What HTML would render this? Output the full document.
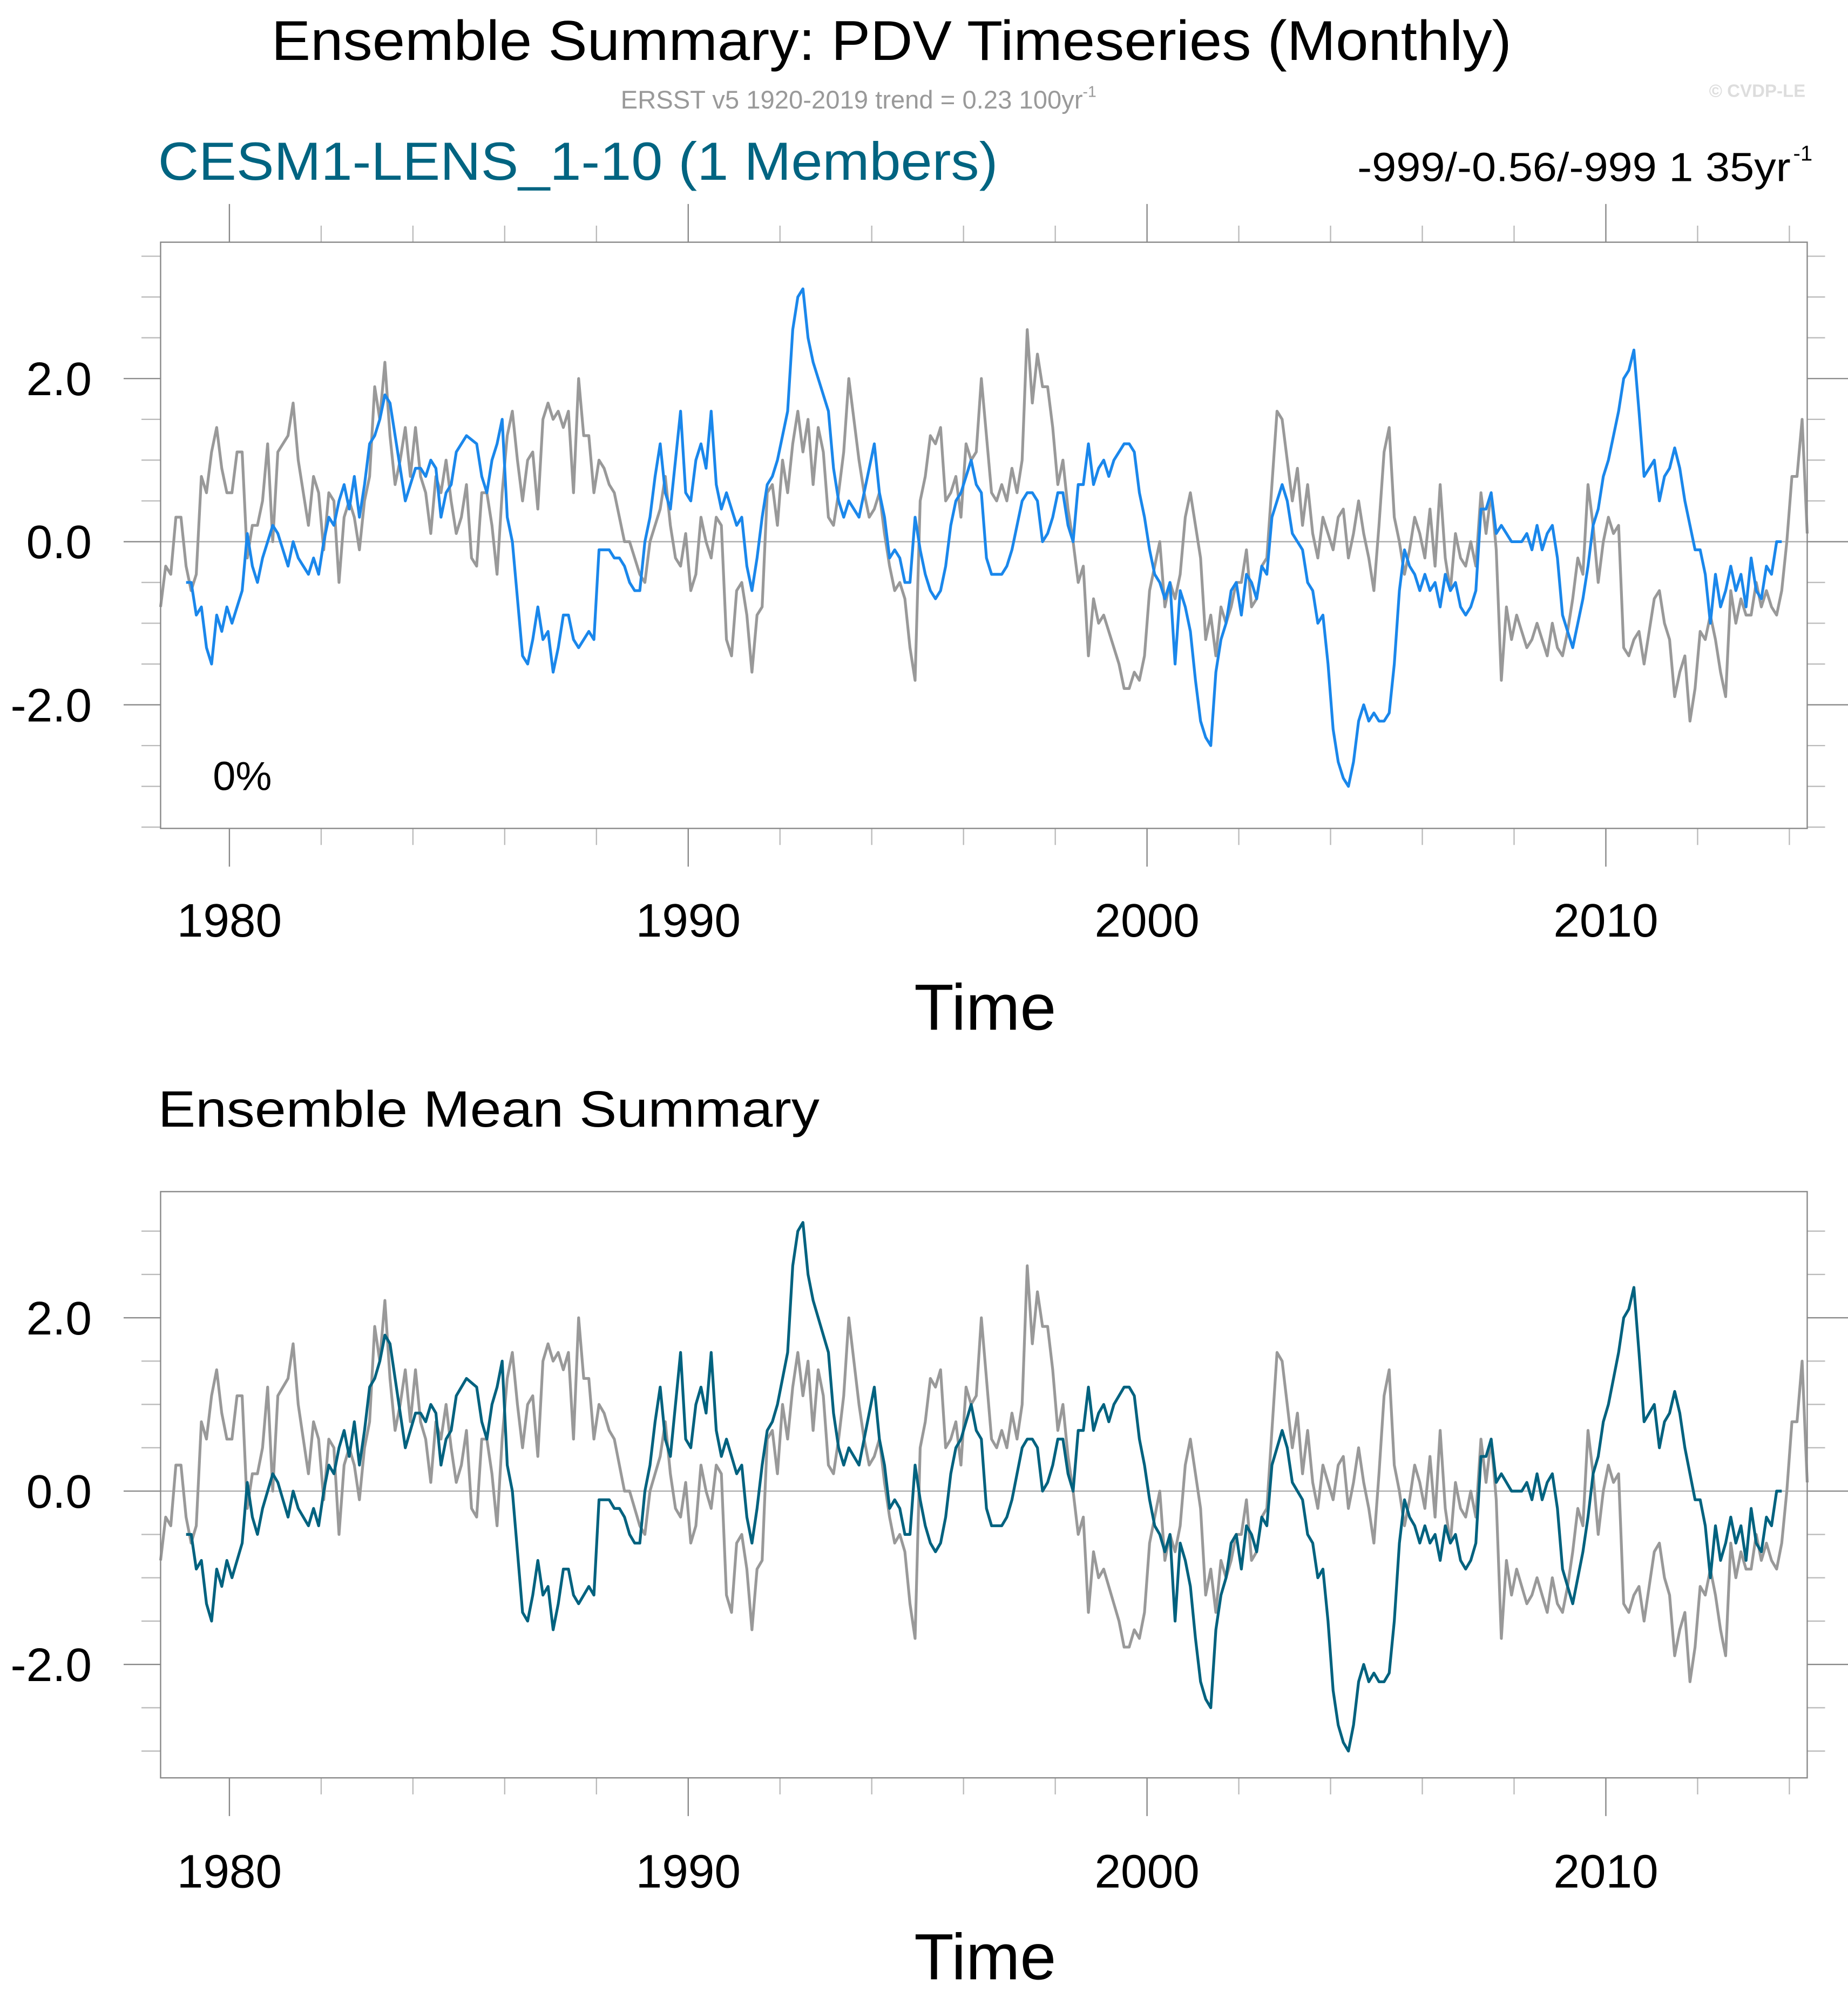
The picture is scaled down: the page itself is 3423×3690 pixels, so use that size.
<!DOCTYPE html>
<html><head><meta charset="utf-8"><style>
html,body{margin:0;padding:0;background:#fff}
svg{display:block}
text{font-family:"Liberation Sans",sans-serif}
</style></head><body>
<svg id="chart" width="3423" height="3690" viewBox="0 0 1450 1563" xmlns="http://www.w3.org/2000/svg">
<rect width="1450" height="1563" fill="#fff"/>
<text x="213" y="47" font-size="44" textLength="973" lengthAdjust="spacingAndGlyphs">Ensemble Summary: PDV Timeseries (Monthly)</text>
<text x="487" y="85" font-size="20" fill="#999">ERSST v5 1920-2019 trend = 0.23 100yr<tspan font-size="12" dy="-9">-1</tspan></text>
<text x="1341" y="76" font-size="14" font-weight="bold" fill="#ddd">© CVDP-LE</text>
<text x="124" y="141" font-size="42" fill="#006481" textLength="659" lengthAdjust="spacingAndGlyphs">CESM1-LENS_1-10 (1 Members)</text>
<text x="1065" y="142" font-size="32" textLength="340" lengthAdjust="spacingAndGlyphs">-999/-0.56/-999 1 35yr</text>
<text x="1407" y="126" font-size="17">-1</text>
<text x="124" y="884" font-size="40" textLength="519" lengthAdjust="spacingAndGlyphs">Ensemble Mean Summary</text>
<g id="p1"></g>
<g id="p2"></g>
</svg>
<script>
const xTicks=[1980,1990,2000,2010];
const xMinor=[1982,1984,1986,1988,1992,1994,1996,1998,2002,2004,2006,2008,2012,2014];
const yTickLabels=["2.0","0.0","-2.0"];
const yTickValues=[2,0,-2];
const obsStart=1978.5;
const modelStart=1979.056;
const stepYears=1/9;
const obsValues=[-0.8,-0.3,-0.4,0.3,0.3,-0.3,-0.6,-0.4,0.8,0.6,1.1,1.4,0.9,0.6,0.6,1.1,1.1,-0.2,0.2,0.2,0.5,1.2,0.0,1.1,1.2,1.3,1.7,1.0,0.6,0.2,0.8,0.6,-0.1,0.6,0.5,-0.5,0.3,0.5,0.3,-0.1,0.5,
0.8,1.9,1.5,2.2,1.3,0.7,1.0,1.4,0.8,1.4,0.8,0.6,0.1,0.8,0.6,1.0,0.5,0.1,0.3,0.7,-0.2,-0.3,0.6,0.6,0.2,-0.4,0.6,1.3,1.6,1.0,0.5,1.0,1.1,0.4,1.5,1.7,1.5,1.6,1.4,1.6,0.6,2.0,1.3,1.3,0.6,1.0,0.9,0.7,0.6,0.3,0.0,0.0,-0.2,-0.4,-0.5,0.0,0.2,0.4,0.8,0.2,-0.2,-0.3,0.1,-0.6,-0.4,0.3,0.0,-0.2,0.3,0.2,-1.2,-1.4,-0.6,-0.5,-0.9,-1.6,-0.9,-0.8,0.6,0.7,0.2,1.0,0.6,1.2,1.6,1.1,1.5,0.7,1.4,1.1,0.3,0.2,0.6,1.1,2.0,1.5,1.0,0.6,0.3,0.4,0.6,0.1,-0.3,-0.6,-0.5,-0.7,-1.3,-1.7,0.5,0.8,1.3,1.2,1.4,0.5,0.6,0.8,0.3,1.2,1.0,1.1,2.0,1.3,0.6,0.5,0.7,0.5,0.9,0.6,1.0,2.6,1.7,2.3,1.9,1.9,1.4,0.7,1.0,0.4,0.0,-0.5,-0.3,-1.4,-0.7,-1.0,-0.9,-1.1,-1.3,-1.5,-1.8,-1.8,-1.6,-1.7,-1.4,-0.6,-0.3,0.0,-0.8,-0.5,-0.7,-0.4,0.3,0.6,0.2,-0.2,-1.2,-0.9,-1.4,-0.8,-1.0,-0.8,-0.5,-0.5,-0.1,-0.8,-0.7,-0.3,-0.2,0.7,1.6,1.5,1.0,0.5,0.9,0.2,0.7,0.1,-0.2,0.3,0.1,-0.1,0.3,0.4,-0.2,0.1,0.5,0.1,-0.2,-0.6,0.2,1.1,1.4,0.3,0.0,-0.4,-0.1,0.3,0.1,-0.2,0.4,-0.3,0.7,-0.2,-0.6,0.1,-0.2,-0.3,0.0,-0.3,0.6,0.1,0.6,-0.1,-1.7,-0.8,-1.2,-0.9,-1.1,-1.3,-1.2,-1.0,-1.2,-1.4,-1.0,-1.3,-1.4,-1.1,-0.7,-0.2,-0.4,0.7,0.2,-0.5,0.0,0.3,0.1,0.2,-1.3,-1.4,-1.2,-1.1,-1.5,-1.1,-0.7,-0.6,-1.0,-1.2,-1.9,-1.6,-1.4,-2.2,-1.8,-1.1,-1.2,-0.9,-1.2,-1.6,-1.9,-0.6,-1.0,-0.7,-0.9,-0.9,-0.5,-0.8,-0.6,-0.8,-0.9,-0.6,0.0,0.8,0.8,1.5,0.1];
const modelValues=[-0.5,-0.5,-0.9,-0.8,-1.3,-1.5,-0.9,-1.1,-0.8,-1.0,-0.8,-0.6,0.1,-0.3,-0.5,-0.2,0.0,0.2,0.1,-0.1,-0.3,0.0,-0.2,-0.3,-0.4,-0.2,-0.4,0.0,0.3,0.2,0.5,0.7,0.4,0.8,0.3,0.7,1.2,1.3,1.5,1.8,1.7,1.3,0.9,0.5,0.7,0.9,0.9,0.8,1.0,0.9,0.3,0.6,0.7,1.1,1.2,1.3,1.25,1.2,0.8,0.6,1.0,1.2,1.5,0.3,0.0,-0.7,-1.4,-1.5,-1.2,-0.8,-1.2,-1.1,-1.6,-1.3,-0.9,-0.9,-1.2,-1.3,-1.2,-1.1,-1.2,-0.1,-0.1,-0.1,-0.2,-0.2,-0.3,-0.5,-0.6,-0.6,0.0,0.3,0.8,1.2,0.6,0.4,1.0,1.6,0.6,0.5,1.0,1.2,0.9,1.6,0.7,0.4,0.6,0.4,0.2,0.3,-0.3,-0.6,-0.2,0.3,0.7,0.8,1.0,1.3,1.6,2.6,3.0,3.1,2.5,2.2,2.0,1.8,1.6,0.9,0.5,0.3,0.5,0.4,0.3,0.6,0.9,1.2,0.6,0.3,-0.2,-0.1,-0.2,-0.5,-0.5,0.3,-0.1,-0.4,-0.6,-0.7,-0.6,-0.3,0.2,0.5,0.6,0.8,1.0,0.7,0.6,-0.2,-0.4,-0.4,-0.4,-0.3,-0.1,0.2,0.5,0.6,0.6,0.5,0.0,0.1,0.3,0.6,0.6,0.2,0.0,0.7,0.7,1.2,0.7,0.9,1.0,0.8,1.0,1.1,1.2,1.2,1.1,0.6,0.3,-0.1,-0.4,-0.5,-0.7,-0.5,-1.5,-0.6,-0.8,-1.1,-1.7,-2.2,-2.4,-2.5,-1.6,-1.2,-1.0,-0.6,-0.5,-0.9,-0.4,-0.5,-0.7,-0.3,-0.4,0.3,0.5,0.7,0.5,0.1,0.0,-0.1,-0.5,-0.6,-1.0,-0.9,-1.5,-2.3,-2.7,-2.9,-3.0,-2.7,-2.2,-2.0,-2.2,-2.1,-2.2,-2.2,-2.1,-1.5,-0.6,-0.1,-0.3,-0.4,-0.6,-0.4,-0.6,-0.5,-0.8,-0.4,-0.6,-0.5,-0.8,-0.9,-0.8,-0.6,0.4,0.4,0.6,0.1,0.2,0.1,0.0,0.0,0.0,0.1,-0.1,0.2,-0.1,0.1,0.2,-0.2,-0.9,-1.1,-1.3,-1.0,-0.7,-0.3,0.2,0.4,0.8,1.0,1.3,1.6,2.0,2.1,2.35,1.6,0.8,0.9,1.0,0.5,0.8,0.9,1.15,0.9,0.5,0.2,-0.1,-0.1,-0.4,-1.0,-0.4,-0.8,-0.6,-0.3,-0.6,-0.4,-0.8,-0.2,-0.6,-0.7,-0.3,-0.4,0.0,0.0];

const NS="http://www.w3.org/2000/svg";
function mk(parent,tag,attrs){const e=document.createElementNS(NS,tag);for(const k in attrs)e.setAttribute(k,attrs[k]);parent.appendChild(e);return e;}
const L=126,R=1418;
function xs(yr){return L+(yr-1978.5)*(R-L)/(2014.389-1978.5);}

function panel(g,top,bottom,zeroY,unit,modelColor,showPct,labY,timeY,topTicks){
  const ys=v=>zeroY-v*unit;
  for(let v=-3.5;v<=3.5;v+=0.5){
    const y=ys(v); if(y<top-1||y>bottom+1) continue;
    if(Math.abs(v%2)<1e-9) continue;
    const t1=mk(g,'line',{x1:111,x2:L,y1:y,y2:y,stroke:'#bbb','stroke-width':1});
    
    
    const t2=mk(g,'line',{x1:R,x2:R+14,y1:y,y2:y,stroke:'#bbb','stroke-width':1});
    
    
  }
  yTickValues.forEach((v,i)=>{
    const y=ys(v);
    const t=mk(g,'line',{x1:97,x2:L,y1:y,y2:y,stroke:'#888','stroke-width':1});
    
    
    const t2=mk(g,'line',{x1:R,x2:1450,y1:y,y2:y,stroke:'#888','stroke-width':1});
    
    
    const lb=mk(g,'text',{x:72,y:y+13,'font-size':37,'text-anchor':'end'});
    lb.textContent=yTickLabels[i];
    
    
  });
  const z=mk(g,'line',{x1:L,x2:R,y1:zeroY,y2:zeroY,stroke:'#aaa','stroke-width':1});
  
  
  xMinor.forEach(yr=>{
    const x=xs(yr);
    if(topTicks){
      const a=mk(g,'line',{x1:x,x2:x,y1:top-13,y2:top,stroke:'#bbb','stroke-width':1});
      
      
    }
    const b=mk(g,'line',{x1:x,x2:x,y1:bottom,y2:bottom+13,stroke:'#bbb','stroke-width':1});
    
    
  });
  xTicks.forEach(yr=>{
    const x=xs(yr);
    if(topTicks){
      const a=mk(g,'line',{x1:x,x2:x,y1:top-30,y2:top,stroke:'#888','stroke-width':1});
      
      
    }
    const b=mk(g,'line',{x1:x,x2:x,y1:bottom,y2:bottom+30,stroke:'#888','stroke-width':1});
    
    
    const lb=mk(g,'text',{x:x,y:labY,'font-size':37,'text-anchor':'middle'});
    lb.textContent=String(yr);
    
    
  });
  const obs=obsValues.map((v,i)=>xs(obsStart+i*stepYears).toFixed(2)+','+ys(v).toFixed(2)).join(' ');
  const o=mk(g,'polyline',{points:obs,fill:'none',stroke:'#999','stroke-width':2.2,'stroke-linejoin':'round'});
  
  
  const mod=modelValues.map((v,i)=>xs(modelStart+i*stepYears).toFixed(2)+','+ys(v).toFixed(2)).join(' ');
  const m=mk(g,'polyline',{points:mod,fill:'none',stroke:modelColor,'stroke-width':2.2,'stroke-linejoin':'round'});
  
  
  const f=mk(g,'rect',{x:L,y:top,width:R-L,height:bottom-top,fill:'none',stroke:'#888','stroke-width':1});
  
  
  if(showPct){
    const p=mk(g,'text',{x:167,y:620,'font-size':32});
    p.textContent='0%';
    
    
  }
  const t=mk(g,'text',{x:773,y:timeY,'font-size':51,'text-anchor':'middle'});
  t.textContent='Time';
  
  
}
panel(document.getElementById('p1'),190,650,425,64,'#1a87eb',true,735,808,true);
panel(document.getElementById('p2'),935,1395,1170,68,'#00627f',false,1481,1553,false);
</script>
</body></html>
